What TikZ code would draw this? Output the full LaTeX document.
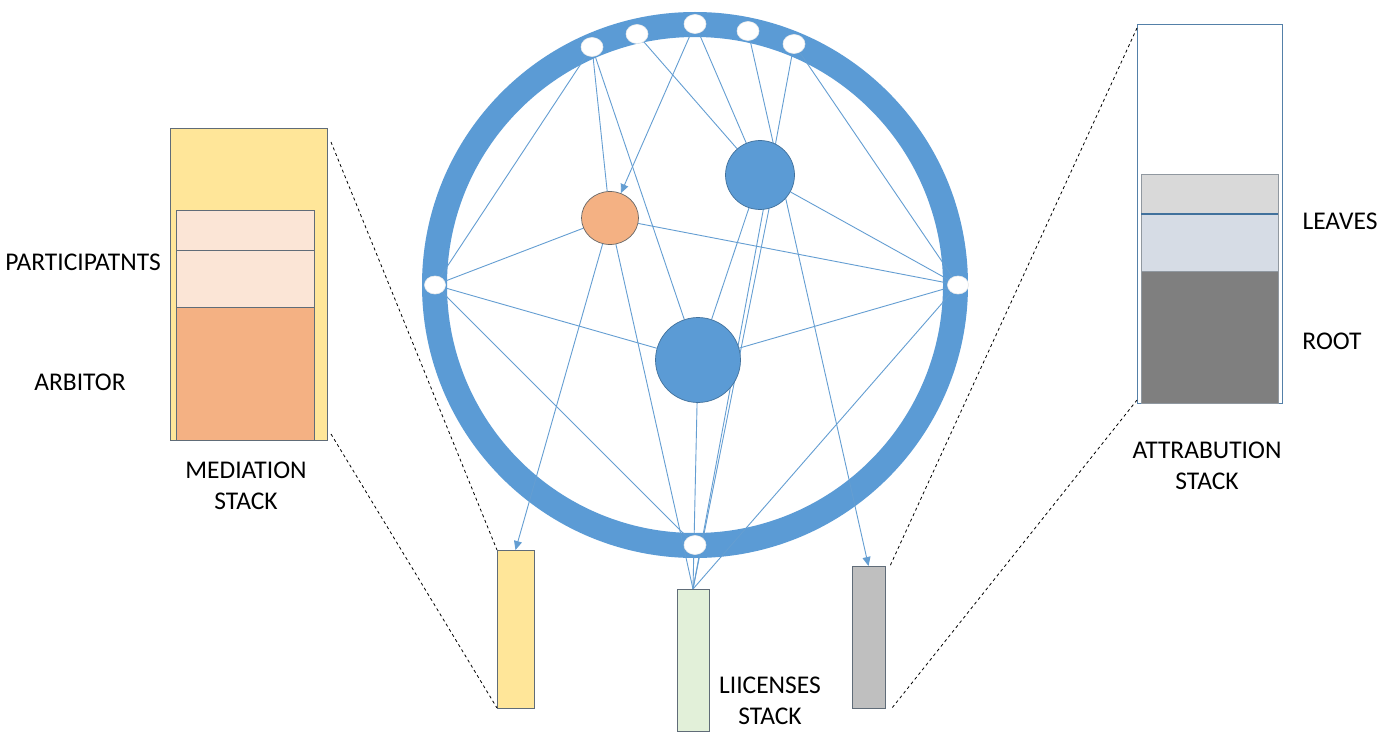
\documentclass[tikz,border=0pt]{standalone}
\usepackage{fontspec}
\setmainfont{Carlito}
\usetikzlibrary{arrows.meta,shapes.geometric,backgrounds}
\definecolor{ringblue}{RGB}{91,155,213}
\definecolor{linkblue}{RGB}{100,158,210}
\definecolor{darkblue}{RGB}{65,113,156}
\definecolor{boxborder}{RGB}{96,108,120}
\definecolor{attborder}{RGB}{84,128,168}
\definecolor{medyellow}{RGB}{255,230,153}
\definecolor{peach}{RGB}{251,229,214}
\definecolor{orangef}{RGB}{244,177,131}
\definecolor{greenf}{RGB}{226,240,217}
\definecolor{grayf}{RGB}{191,191,191}
\definecolor{lgray}{RGB}{217,217,217}
\definecolor{lblue}{RGB}{214,220,229}
\definecolor{dgray}{RGB}{127,127,127}
\begin{document}
\begin{tikzpicture}[x=1pt,y=-1pt,
  conn/.style={draw=linkblue, line width=0.9pt},
  arr/.style={conn, -{Triangle[length=9pt,width=8pt]}},
  port/.style={ellipse, fill=white, draw=white!85!gray, line width=0.6pt, minimum width=22pt, minimum height=19pt, inner sep=0pt},
  bluec/.style={circle, fill=ringblue, draw=darkblue, line width=0.7pt, inner sep=0pt},
  box/.style={rectangle, draw=boxborder, line width=1pt, inner sep=0pt, outer sep=0pt, anchor=north west},
  lab/.style={font=\fontsize{25.5}{31}\selectfont, align=center, inner sep=0pt},
  guide/.style={draw=black, dash pattern=on 3pt off 3pt, line width=0.8pt}]
\useasboundingbox (0,0) rectangle (1382,741);

% ports
\node[port] (P1) at (592,47) {};
\node[port] (P2) at (637,34) {};
\node[port] (P3) at (695,24) {};
\node[port] (P4) at (748,31) {};
\node[port] (P5) at (794,44) {};
\node[port, minimum width=21pt, minimum height=18pt] (L) at (435,285) {};
\node[port, minimum width=21pt, minimum height=18pt] (R) at (958,285) {};
\node[port] (B) at (695,545) {};

% inner nodes
\node[ellipse, fill=orangef, draw=gray!80!black, line width=0.7pt, minimum width=57pt, minimum height=53pt, inner sep=0pt] (org) at (610,218) {};
\node[bluec, minimum size=69pt] (up) at (760,175) {};
\node[bluec, minimum size=85pt] (big) at (698,360) {};

% bottom stacks
\node[box, fill=medyellow, minimum width=37pt, minimum height=158pt] (yel) at (497,550) {};
\node[box, fill=greenf, minimum width=32pt, minimum height=142pt] (grn) at (677,589) {};
\node[box, fill=grayf, minimum width=33pt, minimum height=142pt] (gry) at (852,566) {};

% mediation stack
\node[box, fill=medyellow, minimum width=157pt, minimum height=311pt] (med) at (170,129) {};
\node[box, fill=peach, minimum width=138pt, minimum height=40pt] (m1) at (176,210) {};
\node[box, fill=peach, minimum width=138pt, minimum height=57pt] (m2) at (176,250) {};
\node[box, fill=orangef, minimum width=138pt, minimum height=133pt] (m3) at (176,307) {};

% attribution stack
\node[box, fill=white, draw=attborder, minimum width=145pt, minimum height=378pt] (att) at (1137,25) {};
\node[box, fill=lgray, draw=boxborder!70, minimum width=137pt, minimum height=39pt] (a1) at (1141,175) {};
\node[box, fill=lblue, draw=boxborder!70, minimum width=137pt, minimum height=57pt] (a2) at (1141,214) {};
\node[box, fill=dgray, draw=boxborder!70, minimum width=137pt, minimum height=132pt] (a3) at (1141,271) {};
\draw[darkblue, line width=1.8pt] (a2.north west) -- (a2.north east);

% labels
\node[lab] (tpart) at (83,262) {PARTICIPATNTS};
\node[lab] (tarb) at (80,382) {ARBITOR};
\node[lab] (tmed) at (246,486) {MEDIATION\\STACK};
\node[lab] (tleaves) at (1340,221) {LEAVES};
\node[lab] (troot) at (1332,341) {ROOT};
\node[lab] (tatt) at (1207,466) {ATTRABUTION\\STACK};
\node[lab] (tlic) at (770,701) {LIICENSES\\STACK};

% dashed guides
\coordinate (mt) at (331,142);
\coordinate (mb) at (331,434);
\coordinate (at) at (1137,28);
\coordinate (ab) at (1137,400);
\draw[guide] (mt) -- (yel.north west);
\draw[guide] (mb) -- (yel.south west);
\draw[guide] (at) -- ([xshift=5pt]gry.north east);
\draw[guide] (ab) -- ([xshift=7pt]gry.south east);

\begin{scope}[on background layer]
  \fill[white] (0,0) rectangle (1382,741);
  \node[circle, draw=ringblue, line width=25pt, minimum size=521pt, inner sep=0pt] (ring) at (695,285) {};
  \draw[conn] (P1) -- (L);
  \draw[conn] (P1) -- (org);
  \draw[conn] (P1) -- (big);
  \draw[conn] (P2) -- (up);
  \draw[arr] (P3) -- (org);
  \draw[conn] (P3) -- (up);
  \draw[arr] (P4) -- (gry.north);
  \draw[conn] (P5) -- (R);
  \draw[conn] (P5) -- (grn.north);
  \draw[conn] (L) -- (org);
  \draw[conn] (L) -- (big);
  \draw[conn] (L) -- (B);
  \draw[conn] (org) -- (R);
  \draw[arr] (org) -- (yel.north);
  \draw[conn] (org) -- (grn.north);
  \draw[conn] (up) -- (R);
  \draw[conn] (up) -- (big);
  \draw[conn] (up.-75) -- (grn.north);
  \draw[conn] (big) -- (R);
  \draw[conn] (big) -- (grn.north);
  \draw[conn] (R) -- (grn.north);
\end{scope}
\end{tikzpicture}
\end{document}
